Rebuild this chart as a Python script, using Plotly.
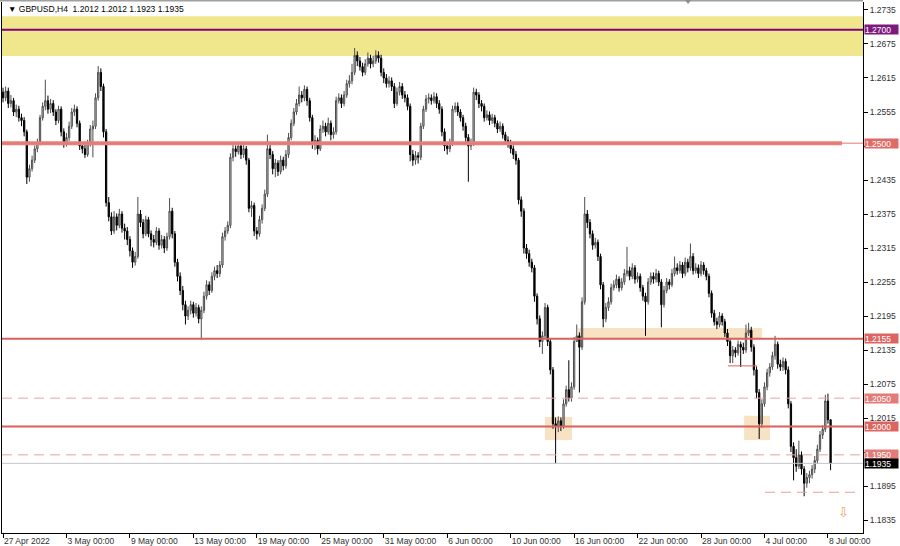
import plotly.graph_objects as go

TITLE = "\u25BC GBPUSD,H4  1.2012 1.2012 1.1923 1.1935"

OPEN = [
1.2590,1.2580,1.2592,1.2570,1.2575,1.2555,1.2560,1.2545,1.2540,1.2520,1.2440,1.2455,
1.2470,1.2490,1.2500,1.2545,1.2565,1.2575,1.2560,1.2570,1.2555,1.2540,1.2560,1.2520,
1.2500,1.2510,1.2530,1.2555,1.2560,1.2535,1.2495,1.2490,1.2480,1.2500,1.2525,1.2530,
1.2580,1.2625,1.2600,1.2520,1.2395,1.2370,1.2345,1.2370,1.2355,1.2375,1.2350,1.2345,
1.2330,1.2310,1.2290,1.2300,1.2375,1.2360,1.2340,1.2365,1.2340,1.2330,1.2325,1.2345,
1.2320,1.2330,1.2315,1.2335,1.2380,1.2340,1.2290,1.2265,1.2240,1.2215,1.2195,1.2205,
1.2215,1.2200,1.2210,1.2190,1.2205,1.2230,1.2250,1.2240,1.2265,1.2275,1.2270,1.2285,
1.2335,1.2345,1.2355,1.2475,1.2490,1.2485,1.2495,1.2480,1.2490,1.2470,1.2385,1.2390,
1.2345,1.2340,1.2365,1.2385,1.2410,1.2490,1.2480,1.2455,1.2465,1.2450,1.2470,1.2460,
1.2480,1.2510,1.2535,1.2555,1.2570,1.2585,1.2580,1.2595,1.2575,1.2545,1.2500,1.2505,
1.2490,1.2525,1.2530,1.2520,1.2535,1.2515,1.2520,1.2575,1.2580,1.2570,1.2585,1.2605,
1.2610,1.2625,1.2655,1.2645,1.2635,1.2625,1.2640,1.2650,1.2640,1.2645,1.2655,1.2650,
1.2625,1.2615,1.2605,1.2610,1.2600,1.2570,1.2590,1.2600,1.2585,1.2580,1.2565,1.2480,
1.2470,1.2478,1.2475,1.2530,1.2560,1.2578,1.2580,1.2575,1.2582,1.2570,1.2560,1.2520,
1.2495,1.2490,1.2500,1.2560,1.2565,1.2555,1.2545,1.2530,1.2510,1.2495,1.2500,1.2590,
1.2585,1.2570,1.2565,1.2545,1.2550,1.2540,1.2545,1.2535,1.2525,1.2530,1.2515,1.2505,
1.2500,1.2490,1.2480,1.2470,1.2400,1.2380,1.2315,1.2305,1.2290,1.2280,1.2230,1.2190,
1.2150,1.2160,1.2210,1.2150,1.2100,1.2005,1.2000,1.2010,1.2000,1.2040,1.2065,1.2050,
1.2070,1.2150,1.2160,1.2140,1.2220,1.2375,1.2360,1.2340,1.2320,1.2325,1.2300,1.2250,
1.2190,1.2210,1.2220,1.2245,1.2250,1.2260,1.2245,1.2255,1.2270,1.2275,1.2265,1.2280,
1.2260,1.2265,1.2245,1.2230,1.2220,1.2255,1.2265,1.2260,1.2270,1.2255,1.2215,1.2240,
1.2255,1.2250,1.2270,1.2280,1.2275,1.2285,1.2270,1.2290,1.2280,1.2300,1.2275,1.2280,
1.2270,1.2285,1.2275,1.2265,1.2235,1.2200,1.2185,1.2180,1.2195,1.2185,1.2165,1.2150,
1.2125,1.2135,1.2130,1.2145,1.2140,1.2135,1.2165,1.2170,1.2140,1.2100,1.2060,1.2005,
1.2040,1.2070,1.2095,1.2105,1.2125,1.2145,1.2110,1.2105,1.2115,1.2100,1.2040,1.1965,
1.1945,1.1930,1.1950,1.1925,1.1900,1.1910,1.1915,1.1925,1.1940,1.1960,1.1985,1.1995,
1.2045,1.2012]

HIGH = [
1.2598,1.2600,1.2598,1.2585,1.2580,1.2568,1.2566,1.2552,1.2546,1.2524,1.2462,1.2478,
1.2496,1.2508,1.2550,1.2572,1.2612,1.2584,1.2578,1.2576,1.2560,1.2566,1.2565,1.2526,
1.2518,1.2538,1.2562,1.2568,1.2565,1.2540,1.2502,1.2498,1.2506,1.2532,1.2540,1.2588,
1.2636,1.2632,1.2605,1.2525,1.2405,1.2378,1.2380,1.2376,1.2384,1.2380,1.2358,1.2352,
1.2336,1.2316,1.2308,1.2405,1.2382,1.2366,1.2372,1.2370,1.2346,1.2338,1.2352,1.2350,
1.2338,1.2336,1.2342,1.2403,1.2386,1.2345,1.2296,1.2272,1.2248,1.2222,1.2212,1.2222,
1.2220,1.2218,1.2215,1.2212,1.2238,1.2258,1.2256,1.2272,1.2282,1.2285,1.2292,1.2342,
1.2352,1.2362,1.2482,1.2498,1.2496,1.2502,1.2500,1.2497,1.2495,1.2474,1.2398,1.2395,
1.2352,1.2372,1.2392,1.2418,1.2515,1.2498,1.2486,1.2472,1.2470,1.2478,1.2476,1.2488,
1.2518,1.2542,1.2562,1.2578,1.2600,1.2592,1.2602,1.2600,1.2580,1.2550,1.2514,1.2510,
1.2532,1.2540,1.2536,1.2545,1.2540,1.2528,1.2582,1.2588,1.2586,1.2592,1.2612,1.2620,
1.2640,1.2668,1.2662,1.2652,1.2642,1.2648,1.2660,1.2656,1.2654,1.2664,1.2662,1.2656,
1.2632,1.2622,1.2618,1.2616,1.2606,1.2598,1.2608,1.2606,1.2592,1.2586,1.2570,1.2488,
1.2486,1.2484,1.2536,1.2566,1.2585,1.2588,1.2586,1.2590,1.2588,1.2576,1.2565,1.2526,
1.2502,1.2508,1.2566,1.2572,1.2572,1.2560,1.2550,1.2536,1.2516,1.2508,1.2598,1.2596,
1.2590,1.2576,1.2570,1.2558,1.2556,1.2552,1.2550,1.2540,1.2538,1.2535,1.2520,1.2512,
1.2506,1.2496,1.2486,1.2474,1.2406,1.2385,1.2322,1.2312,1.2296,1.2285,1.2235,1.2196,
1.2168,1.2218,1.2215,1.2156,1.2105,1.2016,1.2018,1.2016,1.2048,1.2072,1.2117,1.2078,
1.2158,1.2180,1.2166,1.2228,1.2405,1.2382,1.2366,1.2346,1.2333,1.2330,1.2305,1.2255,
1.2218,1.2228,1.2252,1.2258,1.2268,1.2265,1.2262,1.2278,1.2317,1.2282,1.2288,1.2285,
1.2272,1.2270,1.2250,1.2236,1.2262,1.2272,1.2272,1.2278,1.2275,1.2260,1.2248,1.2262,
1.2260,1.2278,1.2300,1.2288,1.2292,1.2290,1.2298,1.2296,1.2323,1.2306,1.2288,1.2286,
1.2292,1.2290,1.2280,1.2270,1.2240,1.2206,1.2192,1.2202,1.2200,1.2190,1.2172,1.2156,
1.2142,1.2140,1.2152,1.2150,1.2148,1.2180,1.2183,1.2176,1.2145,1.2106,1.2066,1.2048,
1.2078,1.2102,1.2112,1.2132,1.2160,1.2150,1.2118,1.2122,1.2120,1.2106,1.2045,1.1972,
1.1960,1.1975,1.1956,1.1930,1.1918,1.1922,1.1932,1.1948,1.1968,1.1992,1.2002,1.2056,
1.2058,1.2012]

LOW = [
1.2572,1.2574,1.2562,1.2563,1.2548,1.2546,1.2538,1.2530,1.2512,1.2428,1.2432,1.2450,
1.2465,1.2484,1.2496,1.2540,1.2558,1.2552,1.2553,1.2548,1.2532,1.2535,1.2512,1.2492,
1.2494,1.2504,1.2525,1.2548,1.2528,1.2488,1.2482,1.2474,1.2476,1.2494,1.2475,1.2525,
1.2575,1.2592,1.2510,1.2388,1.2362,1.2338,1.2340,1.2346,1.2350,1.2342,1.2330,1.2320,
1.2300,1.2280,1.2284,1.2296,1.2352,1.2332,1.2336,1.2334,1.2318,1.2316,1.2320,1.2312,
1.2314,1.2306,1.2310,1.2330,1.2332,1.2282,1.2256,1.2232,1.2205,1.2180,1.2188,1.2198,
1.2192,1.2194,1.2182,1.2153,1.2200,1.2224,1.2232,1.2236,1.2258,1.2262,1.2264,1.2280,
1.2328,1.2340,1.2350,1.2468,1.2476,1.2480,1.2472,1.2474,1.2462,1.2378,1.2370,1.2336,
1.2330,1.2335,1.2358,1.2380,1.2405,1.2472,1.2445,1.2440,1.2442,1.2445,1.2452,1.2455,
1.2474,1.2505,1.2530,1.2550,1.2565,1.2572,1.2574,1.2566,1.2538,1.2490,1.2488,1.2480,
1.2486,1.2518,1.2512,1.2515,1.2505,1.2508,1.2515,1.2570,1.2562,1.2565,1.2580,1.2598,
1.2604,1.2620,1.2636,1.2628,1.2618,1.2620,1.2635,1.2632,1.2634,1.2640,1.2642,1.2618,
1.2606,1.2598,1.2598,1.2592,1.2562,1.2566,1.2584,1.2578,1.2572,1.2558,1.2468,1.2460,
1.2462,1.2464,1.2470,1.2525,1.2555,1.2570,1.2568,1.2570,1.2562,1.2552,1.2512,1.2486,
1.2480,1.2484,1.2495,1.2554,1.2548,1.2538,1.2522,1.2502,1.2432,1.2488,1.2495,1.2576,
1.2562,1.2556,1.2538,1.2540,1.2532,1.2534,1.2528,1.2518,1.2520,1.2508,1.2498,1.2492,
1.2482,1.2472,1.2462,1.2392,1.2370,1.2305,1.2296,1.2282,1.2272,1.2220,1.2180,1.2140,
1.2128,1.2155,1.2142,1.2092,1.1996,1.1935,1.1990,1.1992,1.1996,1.2035,1.2044,1.2044,
1.2065,1.2150,1.2060,1.2135,1.2215,1.2350,1.2332,1.2312,1.2314,1.2292,1.2242,1.2175,
1.2184,1.2204,1.2215,1.2240,1.2244,1.2238,1.2240,1.2250,1.2265,1.2258,1.2260,1.2252,
1.2254,1.2238,1.2222,1.2160,1.2215,1.2250,1.2252,1.2254,1.2248,1.2175,1.2210,1.2235,
1.2242,1.2246,1.2265,1.2268,1.2270,1.2262,1.2265,1.2272,1.2275,1.2268,1.2270,1.2262,
1.2265,1.2268,1.2258,1.2228,1.2192,1.2178,1.2172,1.2175,1.2178,1.2158,1.2142,1.2112,
1.2112,1.2122,1.2125,1.2105,1.2128,1.2130,1.2160,1.2132,1.2090,1.2050,1.1978,1.1998,
1.2035,1.2064,1.2088,1.2100,1.2118,1.2102,1.2098,1.2098,1.2092,1.2032,1.1955,1.1905,
1.1920,1.1925,1.1915,1.1877,1.1892,1.1900,1.1908,1.1918,1.1934,1.1955,1.1978,1.1990,
1.2005,1.1923]

CLOSE = [
1.2580,1.2592,1.2570,1.2575,1.2555,1.2560,1.2545,1.2540,1.2520,1.2440,1.2455,1.2470,
1.2490,1.2500,1.2545,1.2565,1.2575,1.2560,1.2570,1.2555,1.2540,1.2560,1.2520,1.2500,
1.2510,1.2530,1.2555,1.2560,1.2535,1.2495,1.2490,1.2480,1.2500,1.2525,1.2530,1.2580,
1.2625,1.2600,1.2520,1.2395,1.2370,1.2345,1.2370,1.2355,1.2375,1.2350,1.2345,1.2330,
1.2310,1.2290,1.2300,1.2375,1.2360,1.2340,1.2365,1.2340,1.2330,1.2325,1.2345,1.2320,
1.2330,1.2315,1.2335,1.2380,1.2340,1.2290,1.2265,1.2240,1.2215,1.2195,1.2205,1.2215,
1.2200,1.2210,1.2190,1.2205,1.2230,1.2250,1.2240,1.2265,1.2275,1.2270,1.2285,1.2335,
1.2345,1.2355,1.2475,1.2490,1.2485,1.2495,1.2480,1.2490,1.2470,1.2385,1.2390,1.2345,
1.2340,1.2365,1.2385,1.2410,1.2490,1.2480,1.2455,1.2465,1.2450,1.2470,1.2460,1.2480,
1.2510,1.2535,1.2555,1.2570,1.2585,1.2580,1.2595,1.2575,1.2545,1.2500,1.2505,1.2490,
1.2525,1.2530,1.2520,1.2535,1.2515,1.2520,1.2575,1.2580,1.2570,1.2585,1.2605,1.2610,
1.2625,1.2655,1.2645,1.2635,1.2625,1.2640,1.2650,1.2640,1.2645,1.2655,1.2650,1.2625,
1.2615,1.2605,1.2610,1.2600,1.2570,1.2590,1.2600,1.2585,1.2580,1.2565,1.2480,1.2470,
1.2478,1.2475,1.2530,1.2560,1.2578,1.2580,1.2575,1.2582,1.2570,1.2560,1.2520,1.2495,
1.2490,1.2500,1.2560,1.2565,1.2555,1.2545,1.2530,1.2510,1.2495,1.2500,1.2590,1.2585,
1.2570,1.2565,1.2545,1.2550,1.2540,1.2545,1.2535,1.2525,1.2530,1.2515,1.2505,1.2500,
1.2490,1.2480,1.2470,1.2400,1.2380,1.2315,1.2305,1.2290,1.2280,1.2230,1.2190,1.2150,
1.2160,1.2210,1.2150,1.2100,1.2005,1.2000,1.2010,1.2000,1.2040,1.2065,1.2050,1.2070,
1.2150,1.2160,1.2140,1.2220,1.2375,1.2360,1.2340,1.2320,1.2325,1.2300,1.2250,1.2190,
1.2210,1.2220,1.2245,1.2250,1.2260,1.2245,1.2255,1.2270,1.2275,1.2265,1.2280,1.2260,
1.2265,1.2245,1.2230,1.2220,1.2255,1.2265,1.2260,1.2270,1.2255,1.2215,1.2240,1.2255,
1.2250,1.2270,1.2280,1.2275,1.2285,1.2270,1.2290,1.2280,1.2300,1.2275,1.2280,1.2270,
1.2285,1.2275,1.2265,1.2235,1.2200,1.2185,1.2180,1.2195,1.2185,1.2165,1.2150,1.2125,
1.2135,1.2130,1.2145,1.2140,1.2135,1.2165,1.2170,1.2140,1.2100,1.2060,1.2005,1.2040,
1.2070,1.2095,1.2105,1.2125,1.2145,1.2110,1.2105,1.2115,1.2100,1.2040,1.1965,1.1945,
1.1930,1.1950,1.1925,1.1900,1.1910,1.1915,1.1925,1.1940,1.1960,1.1985,1.1995,1.2045,
1.2012,1.1935]

BARS = list(range(len(CLOSE)))

X_TICK_BARS = [0, 24, 48, 72, 96, 120, 144, 168, 192, 216, 240, 264, 288, 312]
X_TICK_LABELS = ["27 Apr 2022", "3 May 00:00", "9 May 00:00", "13 May 00:00",
                 "19 May 00:00", "25 May 00:00", "31 May 00:00", "6 Jun 00:00",
                 "10 Jun 00:00", "16 Jun 00:00", "22 Jun 00:00", "28 Jun 00:00",
                 "4 Jul 00:00", "8 Jul 00:00"]

# tick marks; labels that sit under the level tags are left blank
Y_TICKS = [1.2735, 1.2675, 1.2615, 1.2555, 1.2495, 1.2435, 1.2375, 1.2315,
           1.2255, 1.2195, 1.2135, 1.2075, 1.2015, 1.1955, 1.1895, 1.1835]
Y_TICK_LABELS = ["1.2735", "1.2675", "1.2615", "1.2555", "", "1.2435", "1.2375",
                 "1.2315", "1.2255", "1.2195", "1.2135", "1.2075", "1.2015", "",
                 "1.1895", "1.1835"]

# Zones and levels
YELLOW_ZONE = [1.2654, 1.2724]
PURPLE_LEVEL = 1.2700
BAND_LEVEL = 1.2500
BAND_HALF = 0.00035
BAND_END_BAR = 317.3
SOLID_LEVELS = [1.2155, 1.2000]
DASHED_LEVELS = [1.2050, 1.1950]
CURRENT_PRICE = 1.1935
SHORT_LINE = (274.2, 285.2, 1.2107)
SHORT_DASH = (288.2, 323.0, 1.1884)
BOXES = [(205.0, 215.2, 1.1976, 1.2017),
         (217.5, 287.0, 1.2156, 1.2174),
         (280.3, 290.1, 1.1976, 1.2019)]
PRICE_TAGS = [("1.2700", 1.2700, "#7d1a7d"), ("1.2500", 1.2500, "#e06a66"),
              ("1.2155", 1.2155, "#dc6461"), ("1.2050", 1.2050, "#e37b78"),
              ("1.2000", 1.2000, "#dc6461"), ("1.1950", 1.1950, "#e37b78"),
              ("1.1935", 1.1935, "#000000")]
ARROW_POS = (317.7, 1.1849)

RED = "#d9605c"
DASH_RED = "#e8a3a1"
FONT = "Liberation Sans, Arial, sans-serif"

fig = go.Figure()
fig.add_trace(go.Candlestick(
    x=BARS, open=OPEN, high=HIGH, low=LOW, close=CLOSE,
    increasing=dict(line=dict(color="#4d4d4d", width=1), fillcolor="#d4d4d4"),
    decreasing=dict(line=dict(color="#000000", width=1), fillcolor="#000000"),
    whiskerwidth=0, hoverinfo="skip", showlegend=False))

shapes = []
shapes.append(dict(type="rect", xref="paper", x0=0, x1=1, yref="y",
                   y0=YELLOW_ZONE[0], y1=YELLOW_ZONE[1], fillcolor="#f0e68c",
                   line=dict(width=0), layer="below"))
for (b0, b1, p0, p1) in BOXES:
    shapes.append(dict(type="rect", xref="x", x0=b0, x1=b1, yref="y", y0=p0, y1=p1,
                       fillcolor="#f8e2c4", line=dict(width=0), layer="below"))
shapes.append(dict(type="line", xref="paper", x0=0, x1=1, yref="y",
                   y0=CURRENT_PRICE, y1=CURRENT_PRICE, line=dict(color="#c4c4c4", width=1)))
shapes.append(dict(type="line", xref="paper", x0=0, x1=1, yref="y",
                   y0=PURPLE_LEVEL, y1=PURPLE_LEVEL, line=dict(color="#800080", width=2)))
shapes.append(dict(type="rect", xref="x", x0=-1, x1=BAND_END_BAR, yref="y",
                   y0=BAND_LEVEL - BAND_HALF, y1=BAND_LEVEL + BAND_HALF,
                   fillcolor="#ec7f7a", line=dict(width=0)))
shapes.append(dict(type="line", xref="paper", x0=0, x1=1, yref="y",
                   y0=BAND_LEVEL, y1=BAND_LEVEL, line=dict(color="#e07a76", width=1)))
for lv in SOLID_LEVELS:
    shapes.append(dict(type="line", xref="paper", x0=0, x1=1, yref="y", y0=lv, y1=lv,
                       line=dict(color=RED, width=2)))
for lv in DASHED_LEVELS:
    shapes.append(dict(type="line", xref="paper", x0=0, x1=1, yref="y", y0=lv, y1=lv,
                       line=dict(color=DASH_RED, width=1, dash="10px,6px")))
shapes.append(dict(type="line", xref="x", x0=SHORT_LINE[0], x1=SHORT_LINE[1], yref="y",
                   y0=SHORT_LINE[2], y1=SHORT_LINE[2], line=dict(color=RED, width=1)))
shapes.append(dict(type="line", xref="x", x0=SHORT_DASH[0], x1=SHORT_DASH[1], yref="y",
                   y0=SHORT_DASH[2], y1=SHORT_DASH[2],
                   line=dict(color=DASH_RED, width=1, dash="10px,6px")))
# window top border and chart-shift marker
shapes.append(dict(type="line", xref="paper", x0=-0.003, x1=1, yref="paper",
                   y0=1.0028, y1=1.0028, line=dict(color="#a0a0a0", width=2)))
shapes.append(dict(type="path", xref="paper", yref="paper",
                   path="M 0.7933 1.0038 L 0.8003 1.0038 L 0.7968 0.9962 Z",
                   fillcolor="#8c8c8c", line=dict(width=0)))

annotations = []
for (txt, price, col) in PRICE_TAGS:
    annotations.append(dict(xref="paper", x=1, xanchor="left", xshift=1, yref="y", y=price,
                            yanchor="middle", text=txt, showarrow=False, bgcolor=col,
                            font=dict(family=FONT, size=8.5, color="#ffffff"),
                            width=33, height=9, borderpad=0, align="left"))
annotations.append(dict(xref="paper", x=0, y=1, yref="paper", xanchor="left",
                        yanchor="middle", xshift=4, yshift=-7, text=TITLE, showarrow=False,
                        font=dict(family=FONT, size=8.5, color="#000000")))
annotations.append(dict(xref="x", x=ARROW_POS[0], yref="y", y=ARROW_POS[1], text="\u21E9",
                        showarrow=False, font=dict(family="DejaVu Sans", size=13, color="#f2a062")))

fig.update_layout(
    width=900, height=546,
    margin=dict(l=2, r=37, t=2, b=13, autoexpand=False),
    paper_bgcolor="#ffffff", plot_bgcolor="#ffffff",
    template="none",
    showlegend=False,
    shapes=shapes, annotations=annotations,
    xaxis=dict(range=[-0.378, 325.26], rangeslider=dict(visible=False),
               tickmode="array", tickvals=X_TICK_BARS, ticktext=X_TICK_LABELS,
               ticks="outside", ticklen=4, tickcolor="#000000", tickwidth=1,
               ticklabelposition="outside right",
               showline=True, linecolor="#000000", linewidth=1, showgrid=False,
               zeroline=False, automargin=False,
               tickfont=dict(family=FONT, size=8.5, color="#303030")),
    yaxis=dict(range=[1.18121, 1.27491], side="right",
               tickmode="array", tickvals=Y_TICKS, ticktext=Y_TICK_LABELS,
               ticks="outside", ticklen=4, tickcolor="#000000", tickwidth=1,
               showline=True, mirror=True, linecolor="#000000", linewidth=1,
               showgrid=False, zeroline=False, automargin=False,
               tickfont=dict(family=FONT, size=8.5, color="#303030")),
)

fig.write_html("out.html", config={"displayModeBar": False},
               post_script="document.body.style.margin='0px';document.body.style.overflow='hidden';")
